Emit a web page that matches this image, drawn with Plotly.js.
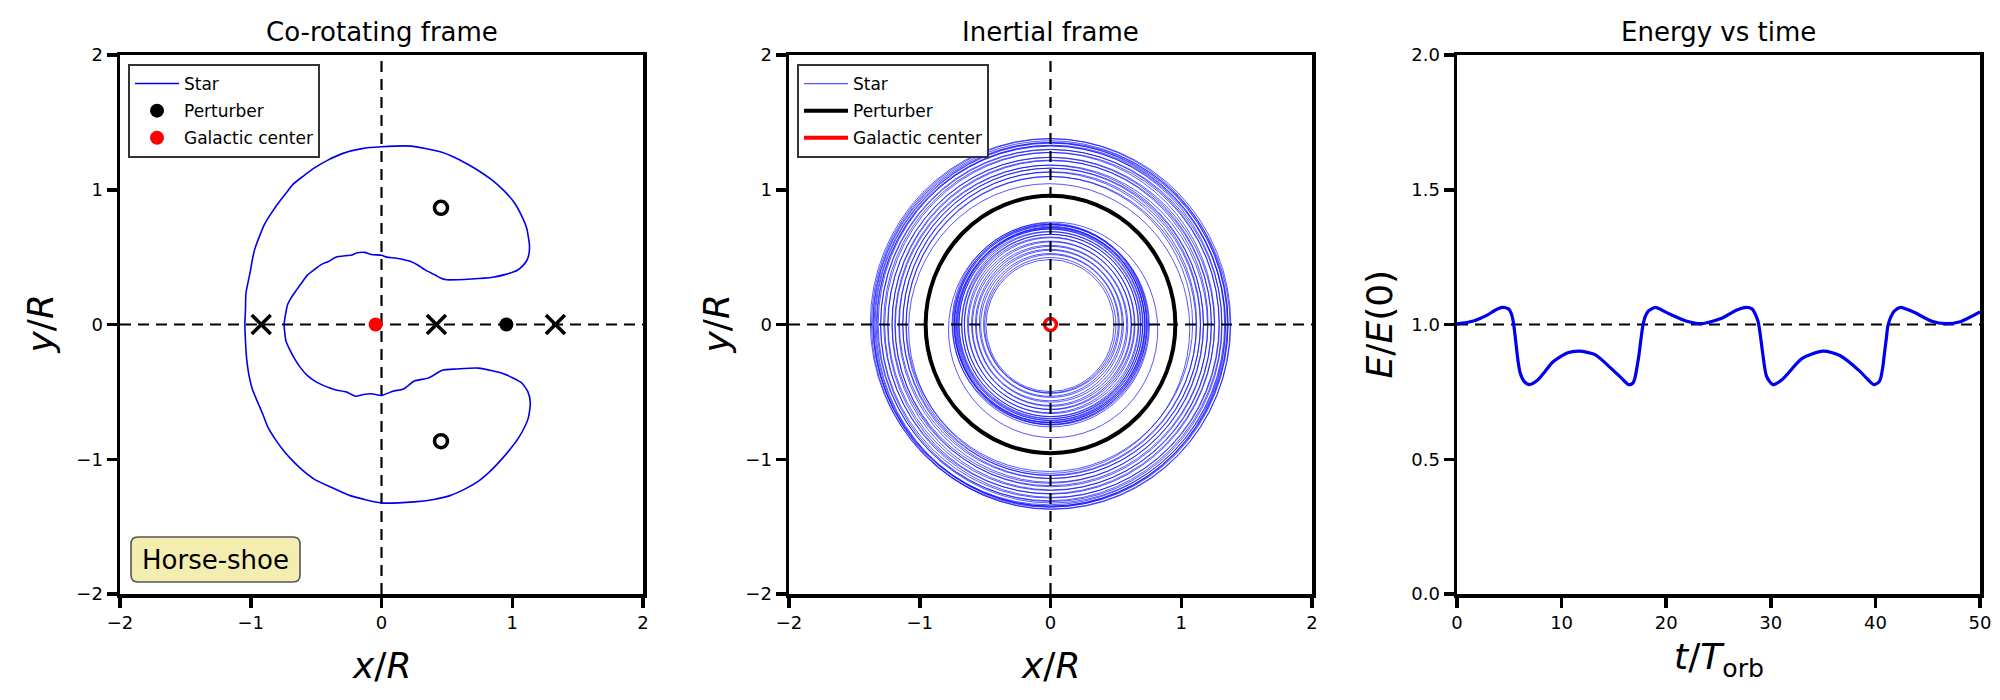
<!DOCTYPE html>
<html>
<head>
<meta charset="utf-8">
<script src="https://cdn.plot.ly/plotly-3.0.1.min.js"></script>
<style>html,body{margin:0;padding:0;background:#fff}#chart{width:2000px;height:700px}</style>
</head>
<body>
<div id="chart"></div>
<script>
// ---------- Data ----------
// Panel 1: horse-shoe orbit of the star in the co-rotating frame
const starX = [-1.045,-1.04,-1.037,-1.004,-0.99,-0.971,-0.935,-0.895,-0.84,-0.786,-0.73,-0.677,-0.6,-0.513,-0.41,-0.295,-0.15,0,0.224,0.442,0.56,0.66,0.76,0.851,0.94,1.015,1.07,1.11,1.132,1.125,1.11,1.08,1.042,0.95,0.851,0.688,0.497,0.45,0.415,0.333,0.28,0.224,0.115,0.04,0,-0.076,-0.13,-0.186,-0.227,-0.267,-0.349,-0.40,-0.458,-0.51,-0.568,-0.61,-0.649,-0.69,-0.718,-0.735,-0.745,-0.74,-0.731,-0.70,-0.663,-0.62,-0.568,-0.51,-0.458,-0.40,-0.349,-0.27,-0.199,-0.14,-0.076,0,0.087,0.169,0.251,0.36,0.469,0.578,0.742,0.933,1.07,1.12,1.138,1.124,1.09,1.042,0.98,0.906,0.83,0.742,0.64,0.524,0.39,0.251,0,-0.24,-0.38,-0.513,-0.6,-0.677,-0.75,-0.813,-0.87,-0.909,-0.95,-0.99,-1.015,-1.031,-1.04,-1.045];
const starY = [0,0.12,0.23,0.39,0.47,0.554,0.65,0.743,0.83,0.905,0.975,1.04,1.1,1.162,1.22,1.27,1.305,1.319,1.324,1.284,1.24,1.189,1.13,1.068,0.99,0.905,0.81,0.716,0.581,0.51,0.473,0.435,0.405,0.372,0.351,0.338,0.332,0.345,0.365,0.405,0.44,0.468,0.492,0.5,0.514,0.519,0.535,0.532,0.515,0.511,0.5,0.47,0.446,0.41,0.365,0.31,0.257,0.2,0.149,0.07,0,-0.06,-0.122,-0.19,-0.257,-0.32,-0.378,-0.42,-0.446,-0.47,-0.486,-0.50,-0.532,-0.52,-0.514,-0.527,-0.495,-0.478,-0.419,-0.397,-0.338,-0.33,-0.324,-0.365,-0.432,-0.50,-0.581,-0.689,-0.77,-0.851,-0.93,-1.014,-1.09,-1.162,-1.22,-1.27,-1.30,-1.316,-1.324,-1.27,-1.21,-1.149,-1.085,-1.014,-0.935,-0.851,-0.76,-0.662,-0.57,-0.473,-0.37,-0.257,-0.13,0];
const lagrangeX = [-0.92, 0.42, 1.33];
const lagrangeY = [0, 0, 0];
const trojanX = [0.455, 0.455];
const trojanY = [0.866, -0.866];
const perturberX = [0.955];
const perturberY = [0];
const centerX = [-0.045];
const centerY = [0];

// Panel 2: star loops in the inertial frame (radius and centre offset of each loop)
const outerR  = [1.374,1.368,1.362,1.356,1.35,1.344,1.336,1.328,1.318,1.306,1.294,1.28,1.266,1.25,1.236,1.222,1.208,1.194,1.18,1.166,1.152,1.138,1.124,1.11,1.095,1.075];
const outerDx = [0.005,-0.01,0.012,-0.004,0.008,-0.012,0.003,0.01,-0.008,0.006,-0.005,0.012,-0.01,0.004,-0.006,0.009,-0.003,0.007,-0.011,0.005,-0.004,0.008,-0.006,0.004,-0.008,-0.01];
const outerDy = [0.005,0.012,-0.01,0.008,-0.004,0.006,-0.012,0.003,0.01,-0.008,0.006,-0.003,0.011,-0.009,0.004,-0.006,0.012,-0.01,0.002,-0.005,0.008,-0.004,0.006,-0.012,0.004,-0.03];
const innerR  = [0.752,0.747,0.742,0.737,0.732,0.727,0.722,0.716,0.71,0.703,0.695,0.686,0.676,0.665,0.652,0.638,0.624,0.61,0.594,0.578,0.562,0.546,0.53,0.515,0.502,0.49];
const innerDx = [0.004,-0.006,0.008,-0.003,0.006,-0.008,0.002,0.007,-0.005,0.004,-0.007,0.006,-0.002,0.005,-0.006,0.003,-0.004,0.006,-0.003,0.004,-0.005,0.002,-0.004,0.003,-0.002,-0.004];
const innerDy = [-0.008,0.005,-0.004,0.007,-0.009,0.003,-0.006,0.004,-0.002,0.006,-0.005,0.002,-0.007,0.004,-0.003,0.006,-0.005,0.003,-0.006,0.002,-0.004,0.005,-0.003,0.004,-0.005,-0.008];
const transR  = [0.80];
const transDx = [0.02];
const transDy = [-0.04];
const perturberOrbitR = 0.955;
const centerOrbitR = 0.045;

// Panel 3: energy vs time
const timeT   = [0,1.47,2.93,3.6,4.32,4.95,5.2,5.38,5.55,5.68,5.85,6.04,6.4,6.89,7.69,8.4,9.16,10.6,11.7,13.2,14.65,15.75,16.4,16.8,17.0,17.2,17.4,17.6,17.77,18.0,18.3,18.97,20.1,21.98,23.4,25.3,26.7,27.66,28.2,28.5,28.8,29.0,29.2,29.6,30.2,31.1,33.0,35.0,36.6,38.5,39.3,39.85,40.3,40.5,40.7,40.85,41.05,41.2,41.5,41.8,42.4,43.6,45.4,46.7,48.0,50];
const energyE = [1.002,1.012,1.036,1.052,1.0635,1.057,1.04,1.01,0.96,0.915,0.86,0.82,0.79,0.777,0.793,0.825,0.861,0.895,0.901,0.888,0.84,0.8,0.777,0.782,0.8,0.84,0.888,0.95,0.996,1.03,1.05,1.0635,1.043,1.012,1.003,1.023,1.053,1.0635,1.058,1.04,1.009,0.96,0.901,0.807,0.777,0.796,0.874,0.901,0.885,0.827,0.795,0.777,0.785,0.8,0.84,0.888,0.95,0.996,1.03,1.05,1.0635,1.047,1.012,1.003,1.009,1.047];
const refE = [1, 1];

const xyTickVals = [-2,-1,0,1,2];
const xyTickText = ['\u22122','\u22121','0','1','2'];
const tTickVals = [0,10,20,30,40,50];
const eTickVals = [0,0.5,1.0,1.5,2.0];
const eTickText = ['0.0','0.5','1.0','1.5','2.0'];
const xyRange = [-2, 2];
const tRange = [0, 50];
const eRange = [0, 2];

// ---------- Styling ----------
const FONT = 'DejaVu Sans, Liberation Sans, sans-serif';
const ringColor = 'rgba(0,0,255,0.66)';
const W = 2000, H = 700;
const yDom = [1-594/H, 1-55/H];
const dom1 = [120/W, 643/W];
const dom2 = [789/W, 1312/W];
const dom3 = [1457/W, 1980/W];

function axisBase(extra){
  return Object.assign({
    showline:true, mirror:true, linecolor:'black', linewidth:3.5,
    ticks:'outside', ticklen:10, tickwidth:3.5, tickcolor:'black',
    showgrid:false, zeroline:false,
    tickfont:{family:FONT, size:18, color:'black'}, fixedrange:true
  }, extra);
}

const traces = [
  // Panel 1
  {x:starX, y:starY, type:'scatter', mode:'lines', line:{color:'#0000ee', width:1.6, shape:'spline', smoothing:0.6},
   name:'Star', xaxis:'x', yaxis:'y', legend:'legend', legendgroup:'a1'},
  {x:lagrangeX, y:lagrangeY, type:'scatter', mode:'markers', showlegend:false,
   marker:{symbol:'x-thin-open', size:19, color:'black', line:{color:'black', width:3.5}}, xaxis:'x', yaxis:'y'},
  {x:trojanX, y:trojanY, type:'scatter', mode:'markers', showlegend:false,
   marker:{symbol:'circle-open', size:13, color:'black', line:{color:'black', width:3.5}}, xaxis:'x', yaxis:'y'},
  {x:perturberX, y:perturberY, type:'scatter', mode:'markers', name:'Perturber',
   marker:{symbol:'circle', size:14, color:'black'}, xaxis:'x', yaxis:'y', legend:'legend', legendgroup:'a2'},
  {x:centerX, y:centerY, type:'scatter', mode:'markers', name:'Galactic center',
   marker:{symbol:'circle', size:14, color:'red'}, xaxis:'x', yaxis:'y', legend:'legend', legendgroup:'a3'},
  // Panel 2 legend entries (the rings themselves are drawn as shapes on x2/y2)
  {x:[null], y:[null], type:'scatter', mode:'lines', name:'Star', line:{color:ringColor, width:1.2},
   xaxis:'x2', yaxis:'y2', legend:'legend2', legendgroup:'b1'},
  {x:[null], y:[null], type:'scatter', mode:'lines', name:'Perturber', line:{color:'black', width:4},
   xaxis:'x2', yaxis:'y2', legend:'legend2', legendgroup:'b2'},
  {x:[null], y:[null], type:'scatter', mode:'lines', name:'Galactic center', line:{color:'red', width:4},
   xaxis:'x2', yaxis:'y2', legend:'legend2', legendgroup:'b3'},
  // Panel 3
  {x:timeT, y:energyE, type:'scatter', mode:'lines', line:{color:'#0000ee', width:3.2, shape:'spline', smoothing:0.7},
   showlegend:false, xaxis:'x3', yaxis:'y3'}
];

const shapes = [];
const dashStyle = '11px,7px';
// panel 1 reference lines (below traces)
shapes.push({type:'line', layer:'below', xref:'x domain', x0:0, x1:1, yref:'y', y0:0, y1:0, line:{color:'black', width:2.2, dash:dashStyle}});
shapes.push({type:'line', layer:'below', yref:'y domain', y0:0, y1:1, xref:'x', x0:0, x1:0, line:{color:'black', width:2.2, dash:dashStyle}});
// Horse-shoe label box with rounded corners (paper coordinates)
(function(){
  const bx0 = 131, bx1 = 300, by0 = 537, by1 = 582, rr = 7;
  const px = v => (v/W).toFixed(5), py = v => (1 - v/H).toFixed(5);
  const path = 'M' + px(bx0+rr) + ',' + py(by0) + ' L' + px(bx1-rr) + ',' + py(by0) +
    ' Q' + px(bx1) + ',' + py(by0) + ' ' + px(bx1) + ',' + py(by0+rr) +
    ' L' + px(bx1) + ',' + py(by1-rr) + ' Q' + px(bx1) + ',' + py(by1) + ' ' + px(bx1-rr) + ',' + py(by1) +
    ' L' + px(bx0+rr) + ',' + py(by1) + ' Q' + px(bx0) + ',' + py(by1) + ' ' + px(bx0) + ',' + py(by1-rr) +
    ' L' + px(bx0) + ',' + py(by0+rr) + ' Q' + px(bx0) + ',' + py(by0) + ' ' + px(bx0+rr) + ',' + py(by0) + ' Z';
  shapes.push({type:'path', layer:'above', xref:'paper', yref:'paper', path:path, fillcolor:'#f4edb0', line:{color:'#555555', width:1.6}});
})();
// panel 2 rings
function ring(r, dx, dy, color, width){
  return {type:'circle', layer:'above', xref:'x2', yref:'y2', x0:dx-r, x1:dx+r, y0:dy-r, y1:dy+r, line:{color:color, width:width}};
}
outerR.forEach((r,i)=>shapes.push(ring(r, outerDx[i], outerDy[i], ringColor, 1)));
innerR.forEach((r,i)=>shapes.push(ring(r, innerDx[i], innerDy[i], ringColor, 1)));
transR.forEach((r,i)=>shapes.push(ring(r, transDx[i], transDy[i], ringColor, 1)));
shapes.push(ring(perturberOrbitR, 0, 0, 'black', 4));
shapes.push(ring(centerOrbitR, 0, 0, 'red', 3.5));
shapes.push({type:'line', layer:'above', xref:'x2 domain', x0:0, x1:1, yref:'y2', y0:0, y1:0, line:{color:'black', width:2.2, dash:dashStyle}});
shapes.push({type:'line', layer:'above', yref:'y2 domain', y0:0, y1:1, xref:'x2', x0:0, x1:0, line:{color:'black', width:2.2, dash:dashStyle}});
// panel 3 reference line
shapes.push({type:'line', layer:'below', xref:'x3', x0:tRange[0], x1:tRange[1], yref:'y3', y0:refE[0], y1:refE[1], line:{color:'black', width:2.2, dash:dashStyle}});

function title(txt, dom){
  return {text:txt, xref:'paper', yref:'paper', x:(dom[0]+dom[1])/2, y:yDom[1], xanchor:'center', yanchor:'bottom', yshift:6,
          showarrow:false, font:{family:FONT, size:26, color:'black'}};
}
function xTitle(txt, dom, ypx){
  return {text:txt, xref:'paper', yref:'paper', x:(dom[0]+dom[1])/2, y:1-ypx/H, xanchor:'center', yanchor:'middle',
          showarrow:false, font:{family:FONT, size:36, color:'black'}};
}
function yTitle(txt, xpx){
  return {text:txt, xref:'paper', yref:'paper', x:xpx/W, y:(yDom[0]+yDom[1])/2, xanchor:'center', yanchor:'middle',
          textangle:-90, showarrow:false, font:{family:FONT, size:36, color:'black'}};
}

const annotations = [
  title('Co-rotating frame', dom1), title('Inertial frame', dom2), title('Energy vs time', dom3),
  xTitle('<i>x</i>/<i>R</i>', dom1, 665), xTitle('<i>x</i>/<i>R</i>', dom2, 665), xTitle('<i>t</i>/<i>T</i><sub>orb</sub>', dom3, 659),
  yTitle('<i>y</i>/<i>R</i>', 40), yTitle('<i>y</i>/<i>R</i>', 716), yTitle('<i>E</i>/<i>E</i>(0)', 1379),
  {text:'Horse-shoe', xref:'paper', yref:'paper', x:215.5/W, y:1-559.5/H, xanchor:'center', yanchor:'middle',
   showarrow:false, font:{family:FONT, size:26, color:'black'}}
];

const legendStyle = {font:{family:FONT, size:17, color:'black'}, bgcolor:'rgba(255,255,255,0.9)', bordercolor:'#333333',
  borderwidth:2, xanchor:'left', yanchor:'top', tracegroupgap:2, itemwidth:44};

const layout = {
  width:W, height:H, margin:{l:0, r:0, t:0, b:0}, paper_bgcolor:'white', plot_bgcolor:'white',
  font:{family:FONT, color:'black'}, showlegend:true,
  xaxis: axisBase({domain:dom1, range:xyRange, tickvals:xyTickVals, ticktext:xyTickText, anchor:'y'}),
  yaxis: axisBase({domain:yDom, range:xyRange, tickvals:xyTickVals, ticktext:xyTickText, anchor:'x'}),
  xaxis2: axisBase({domain:dom2, range:xyRange, tickvals:xyTickVals, ticktext:xyTickText, anchor:'y2'}),
  yaxis2: axisBase({domain:yDom, range:xyRange, tickvals:xyTickVals, ticktext:xyTickText, anchor:'x2'}),
  xaxis3: axisBase({domain:dom3, range:tRange, tickvals:tTickVals, anchor:'y3'}),
  yaxis3: axisBase({domain:yDom, range:eRange, tickvals:eTickVals, ticktext:eTickText, anchor:'x3'}),
  legend: Object.assign({x:128/W, y:1-64/H}, legendStyle),
  legend2: Object.assign({x:797/W, y:1-64/H}, legendStyle),
  shapes: shapes, annotations: annotations
};

Plotly.newPlot('chart', traces, layout, {staticPlot:true, displayModeBar:false});
</script>
</body>
</html>
